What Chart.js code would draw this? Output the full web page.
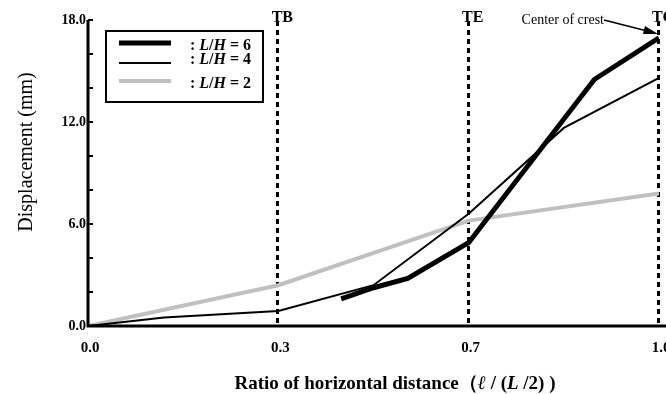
<!DOCTYPE html>
<html>
<head>
<meta charset="utf-8">
<script src="https://cdn.jsdelivr.net/npm/chart.js@4"></script>
<style>
html, body { margin: 0; padding: 0; background: #fff; }
#wrap { width: 666px; height: 394px; }
</style>
</head>
<body>
<div id="wrap"><canvas id="lineChart"></canvas></div>
<script>
// x axis is drawn with equal spacing between the labelled stations
var xTickLabels = ['0.0', '0.3', '0.7', '1.0'];
var markerPos = [1, 2, 3];
var markerLabels = ['TB', 'TE', 'TC'];

var h6X = [1.33, 1.5, 1.68, 2, 2.66, 3];
var h6Y = [1.6, 2.25, 2.8, 4.9, 14.5, 16.95];
var h4X = [0, 0.4, 1, 1.5, 2, 2.5, 3];
var h4Y = [0, 0.5, 0.88, 2.4, 6.6, 11.65, 14.6];
var h2X = [0, 1, 2, 3];
var h2Y = [0, 2.4, 6.2, 7.8];

function pts(xs, ys) {
	return xs.map(function (x, i) { return { x: x, y: ys[i] }; });
}

var SERIF = '"Liberation Serif", "Times New Roman", serif';

var extras = {
	id: 'extras',
	beforeDatasetsDraw: function (chart) {
		var c = chart.ctx, a = chart.chartArea;
		var xs = chart.scales.x;
		c.save();
		// dashed station lines
		c.strokeStyle = '#000';
		c.lineWidth = 3;
		c.setLineDash([5, 4]);
		markerPos.forEach(function (p) {
			var px = Math.round(xs.getPixelForValue(p)) - 0.5;
			c.beginPath();
			c.moveTo(px, 21);
			c.lineTo(px, a.bottom);
			c.stroke();
		});
		c.setLineDash([]);
		c.restore();
	},
	afterDraw: function (chart) {
		var c = chart.ctx, a = chart.chartArea;
		var xs = chart.scales.x, ys = chart.scales.y;
		c.save();
		// axes
		c.strokeStyle = '#000';
		c.lineWidth = 3;
		c.beginPath();
		c.moveTo(a.left, a.top);
		c.lineTo(a.left, a.bottom);
		c.lineTo(chart.width, a.bottom);
		c.stroke();
		// inward minor ticks on y
		c.lineWidth = 2;
		for (var v = 0; v <= 18; v += 2) {
			var py = Math.round(ys.getPixelForValue(v));
			c.beginPath();
			c.moveTo(a.left, py);
			c.lineTo(a.left + 5, py);
			c.stroke();
		}
		// station labels
		c.fillStyle = '#000';
		c.font = 'bold 16px ' + SERIF;
		c.textAlign = 'center';
		c.textBaseline = 'alphabetic';
		markerPos.forEach(function (p, i) {
			c.fillText(markerLabels[i], xs.getPixelForValue(p) + 4, 22);
		});
		// crest annotation
		c.font = '14px ' + SERIF;
		c.textAlign = 'right';
		c.fillText('Center of crest', 604, 24);
		c.lineWidth = 1.5;
		c.beginPath();
		c.moveTo(604, 20);
		c.lineTo(655, 33);
		c.stroke();
		c.beginPath();
		c.moveTo(658, 34);
		c.lineTo(645, 26);
		c.lineTo(643, 34);
		c.closePath();
		c.fill();

		// legend
		c.lineWidth = 2;
		c.strokeRect(106, 31, 157, 71);
		var rows = [43, 63, 81];
		var textRows = [50, 64, 88];
		chart.data.datasets.forEach(function (ds, i) {
			c.strokeStyle = ds.borderColor;
			c.lineWidth = ds.borderWidth;
			c.beginPath();
			c.moveTo(119, rows[i]);
			c.lineTo(171, rows[i]);
			c.stroke();
			drawParts(c, 190, textRows[i], [
				[': ', 'bold 16px'], ['L', 'italic bold 16px'], ['/', 'bold 16px'],
				['H', 'italic bold 16px'], [' = ' + ds.label.split('=')[1].trim(), 'bold 16px']
			]);
		});

		// axis titles
		c.fillStyle = '#000';
		c.font = '20px ' + SERIF;
		c.textAlign = 'center';
		c.save();
		c.translate(32, 152);
		c.rotate(-Math.PI / 2);
		c.fillText('Displacement (mm)', 0, 0);
		c.restore();

		var parts = [
			['Ratio of horizontal distance\uff08', 'bold 19px'], ['\u2113', 'italic bold 19px'],
			[' / (', 'bold 19px'], ['L', 'italic bold 19px'], [' /2) )', 'bold 19px']
		];
		var w = 0;
		parts.forEach(function (p) { c.font = p[1] + ' ' + SERIF; w += c.measureText(p[0]).width; });
		drawParts(c, 395 - w / 2, 389, parts);
		c.restore();
	}
};

function drawParts(c, x, y, parts) {
	c.fillStyle = '#000';
	c.textAlign = 'left';
	parts.forEach(function (p) {
		c.font = p[1] + ' ' + SERIF;
		c.fillText(p[0], x, y);
		x += c.measureText(p[0]).width;
	});
}

var ctx = document.getElementById('lineChart').getContext('2d');
var lineChart = new Chart(ctx, {
	type: 'line',
	data: {
		datasets: [{
			label: 'L/H = 6',
			data: pts(h6X, h6Y),
			borderColor: '#000000',
			borderWidth: 5,
			fill: false
		}, {
			label: 'L/H = 4',
			data: pts(h4X, h4Y),
			borderColor: '#000000',
			borderWidth: 2,
			fill: false
		}, {
			label: 'L/H = 2',
			data: pts(h2X, h2Y),
			borderColor: '#c0c0c0',
			borderWidth: 4,
			fill: false
		}]
	},
	options: {
		responsive: true,
		maintainAspectRatio: false,
		animation: false,
		layout: { padding: { top: 20, right: 7, left: 0, bottom: 0 } },
		elements: { point: { radius: 0 }, line: { tension: 0, borderJoinStyle: 'miter' } },
		plugins: { legend: { display: false }, tooltip: { enabled: false } },
		scales: {
			x: {
				type: 'linear',
				min: 0,
				max: 3,
				grid: { display: false, drawTicks: false },
				border: { display: false },
				ticks: {
					stepSize: 1,
					padding: 13,
					labelOffset: 2,
					color: '#000',
					maxRotation: 0,
					font: { family: SERIF, size: 15, weight: 'bold' },
					callback: function (v) { return xTickLabels[v]; }
				},
				afterFit: function (s) { s.height = 68; s.paddingLeft = 0; s.paddingRight = 0; }
			},
			y: {
				min: 0,
				max: 18,
				grid: { display: false, drawTicks: false },
				border: { display: false },
				ticks: {
					stepSize: 2,
					padding: 2,
					color: '#000',
					font: { family: SERIF, size: 14, weight: 'bold' },
					callback: function (v) { return v % 6 === 0 ? v.toFixed(1) : ''; }
				},
				afterFit: function (s) { s.width = 88; s.paddingTop = 0; s.paddingBottom = 0; }
			}
		}
	},
	plugins: [extras]
});
</script>
</body>
</html>
